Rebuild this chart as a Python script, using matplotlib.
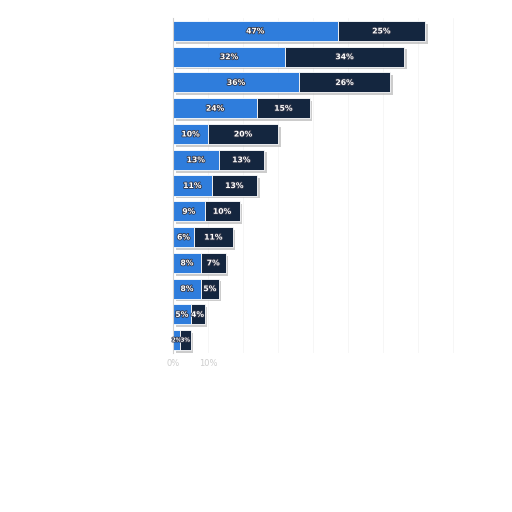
import matplotlib.pyplot as plt
import matplotlib.patheffects as pe
import numpy as np

# values (percent)
first = [47, 32, 36, 24, 10, 13, 11, 9, 6, 8, 8, 5, 2]
second = [25, 34, 26, 15, 20, 13, 13, 10, 11, 7, 5, 4, 3]
tick_vals = [0, 10, 20, 30, 40, 50, 60, 70, 80, 90]
tick_text = ['0%', '10%', '', '', '', '', '', '', '', '']

blue = '#2f7ddc'
navy = '#14263f'

fig = plt.figure(figsize=(5.12, 5.12), dpi=100)
ax = fig.add_axes([173 / 512, 1 - 353 / 512, 315 / 512, 335 / 512])

y = np.arange(len(first))
h = 0.78
shadow = [pe.SimplePatchShadow(offset=(2, -2), shadow_rgbFace='#aaaaaa', alpha=0.6), pe.Normal()]

b1 = ax.barh(y, first, height=h, color=blue, edgecolor='white', linewidth=0.6)
b2 = ax.barh(y, second, left=first, height=h, color=navy, edgecolor='white', linewidth=0.6)
for r in list(b1) + list(b2):
    r.set_path_effects(shadow)

for bars in (b1, b2):
    for r in bars:
        w = r.get_width()
        fs = 5.5 if w >= 4 else 4
        ax.text(r.get_x() + w / 2, r.get_y() + r.get_height() / 2, f'{int(w)}%',
                ha='center', va='center', color='white', fontsize=fs, fontweight='bold',
                path_effects=[pe.withStroke(linewidth=1.2, foreground='#33384a')])

ax.set_xlim(0, 90)
ax.set_ylim(len(first) - 0.5, -0.5)
ax.set_xticks(tick_vals)
ax.set_xticklabels(tick_text, fontsize=6, color='#cccccc')
ax.set_yticks([])
ax.tick_params(axis='x', length=0, pad=4)
ax.grid(axis='x', color='#f5f5f5', linewidth=0.6)
ax.set_axisbelow(True)
for s in ['top', 'right', 'bottom']:
    ax.spines[s].set_visible(False)
ax.spines['left'].set_color('#d0d0d0')

fig.savefig('out.png', dpi=100)
